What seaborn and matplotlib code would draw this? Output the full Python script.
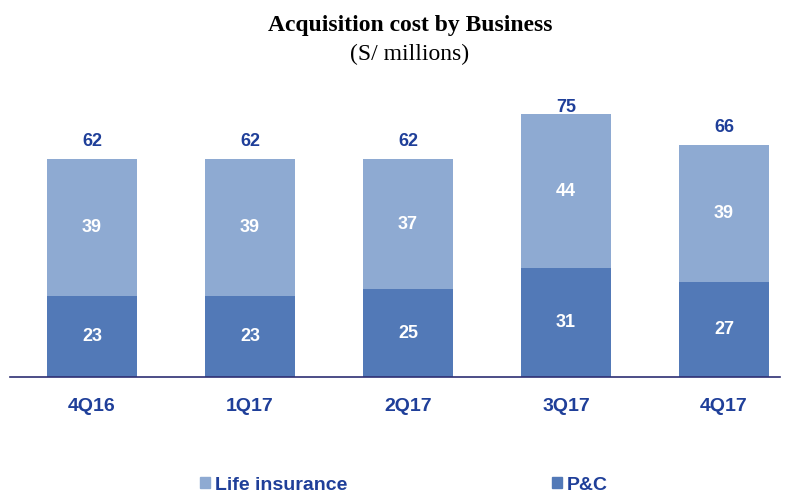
import matplotlib
matplotlib.use("Agg")
import matplotlib.pyplot as plt
import seaborn as sns
import pandas as pd
from matplotlib.patches import Patch

# data
quarters = ["4Q16", "1Q17", "2Q17", "3Q17", "4Q17"]
pc_values = [23, 23, 25, 31, 27]
life_values = [39, 39, 37, 44, 39]

light_blue = "#8eaad2"
dark_blue = "#5279b7"
text_blue = "#1f3f99"

sns.set_theme(style="white")
plt.rcParams["font.family"] = ["Liberation Sans", "DejaVu Sans"]

df = pd.DataFrame({"quarter": quarters, "pc": pc_values, "life": life_values})
df["total"] = df["pc"] + df["life"]

fig = plt.figure(figsize=(7.92, 4.92), dpi=100)
ax = fig.add_axes([10 / 792, 115 / 492, 770 / 792, 287 / 492])

# total bar (life on top), then P&C drawn over it
sns.barplot(data=df, x="quarter", y="total", color=light_blue, width=0.57,
            saturation=1, linewidth=0, ax=ax)
sns.barplot(data=df, x="quarter", y="pc", color=dark_blue, width=0.57,
            saturation=1, linewidth=0, ax=ax)

ax.set_xlim(-0.519, 4.354)
ax.set_ylim(0, 81.8)

for i, row in df.iterrows():
    ax.text(i, row["pc"] / 2, str(row["pc"]), ha="center", va="center",
            color="white", fontsize=13, fontweight="bold")
    ax.text(i, row["pc"] + row["life"] / 2, str(row["life"]), ha="center",
            va="center", color="white", fontsize=13, fontweight="bold")
    ax.text(i, min(row["total"] + 3.9, 75.6), str(row["total"]), ha="center",
            va="baseline", color=text_blue, fontsize=13, fontweight="bold")

ax.set_xlabel("")
ax.set_ylabel("")
ax.set_yticks([])
ax.tick_params(axis="x", length=0, pad=15)
for lbl in ax.get_xticklabels():
    lbl.set_color(text_blue)
    lbl.set_fontsize(14)
    lbl.set_fontweight("bold")

for side in ["top", "left", "right"]:
    ax.spines[side].set_visible(False)
ax.spines["bottom"].set_color("#2e2f73")
ax.spines["bottom"].set_linewidth(1.2)

fig.text(410 / 792, 1 - 26 / 492, "Acquisition cost by Business", ha="center",
         va="center", fontsize=17, fontweight="bold", color="black",
         family=["Liberation Serif", "DejaVu Serif"])
fig.text(410 / 792, 1 - 54 / 492, "(S/ millions)", ha="center", va="center",
         fontsize=17, color="black",
         family=["Liberation Serif", "DejaVu Serif"])

handles = [Patch(color=light_blue, label="Life insurance"),
           Patch(color=dark_blue, label="P&C")]
leg = fig.legend(handles=handles, loc="center", bbox_to_anchor=(0.51, 7 / 492),
                 ncol=2, frameon=False, handlelength=0.55, handleheight=0.55,
                 handletextpad=0.25, columnspacing=10.5,
                 prop={"size": 14, "weight": "bold"})
for t in leg.get_texts():
    t.set_color(text_blue)

fig.savefig("out.png", dpi=100)
